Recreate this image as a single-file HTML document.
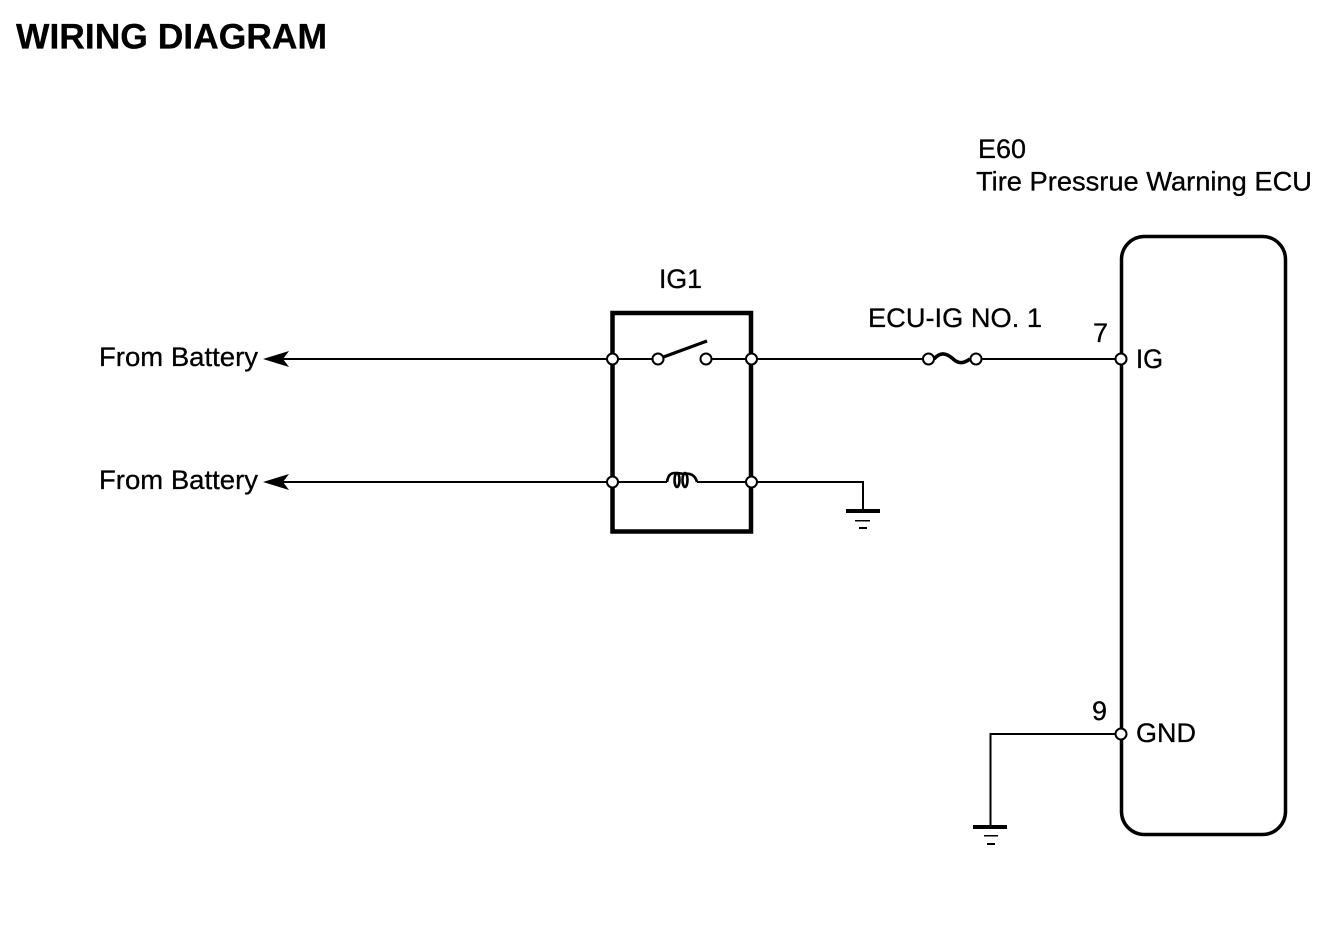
<!DOCTYPE html>
<html>
<head>
<meta charset="utf-8">
<style>
html,body{margin:0;padding:0;background:#fff;width:1344px;height:928px;overflow:hidden}
svg{display:block}
text{font-family:"Liberation Sans",Arial,sans-serif;font-size:27px;fill:#000;stroke:#000;stroke-width:.3px}
</style>
</head>
<body>
<svg width="1344" height="928" viewBox="0 0 1344 928" xmlns="http://www.w3.org/2000/svg">
<rect width="1344" height="928" fill="#fff"/>
<text x="16" y="48.5" style="font-size:35px;font-weight:bold" textLength="311" lengthAdjust="spacingAndGlyphs">WIRING DIAGRAM</text>
<text x="978" y="158" textLength="48" lengthAdjust="spacingAndGlyphs">E60</text>
<text x="976" y="190.5" textLength="336" lengthAdjust="spacingAndGlyphs">Tire Pressrue Warning ECU</text>
<text x="659" y="288" textLength="43" lengthAdjust="spacingAndGlyphs">IG1</text>
<text x="868" y="327" textLength="174" lengthAdjust="spacingAndGlyphs">ECU-IG NO. 1</text>
<text x="1093" y="342">7</text>
<text x="1092" y="720">9</text>
<text x="1136" y="368" textLength="27" lengthAdjust="spacingAndGlyphs">IG</text>
<text x="1136" y="742" textLength="60" lengthAdjust="spacingAndGlyphs">GND</text>
<text x="99" y="366" textLength="159" lengthAdjust="spacingAndGlyphs">From Battery</text>
<text x="99" y="489" textLength="159" lengthAdjust="spacingAndGlyphs">From Battery</text>

<g fill="none" stroke="#000">
  <rect x="612.5" y="313" width="138.5" height="218.5" stroke-width="4.5"/>
  <rect x="1121.5" y="236.5" width="164" height="598" rx="23" ry="23" stroke-width="3.5"/>
  <g stroke-width="2">
    <path d="M275 359H612M612 359H658M706 359H752M752 359H928M976 359H1121"/>
    <path d="M275 482H667M697 482H752M752 482H863V511"/>
    <path d="M1121 734H990.5V827"/>
  </g>
  <path d="M658 359L707 341" stroke-width="3.2"/>
  <path d="M667 482C668 476 670 473 675 473C681 473 682 474 684 474C690 473 695 475 697 482" stroke-width="2.6"/>
  <ellipse cx="677" cy="480" rx="2.5" ry="7" stroke-width="2.6"/>
  <ellipse cx="685" cy="480" rx="2.5" ry="7" stroke-width="2.6"/>
  <path d="M934 359C941 351 947 354 952 358C958 364 963 364 970 359" stroke-width="3.6"/>
</g>

<g fill="#000" stroke="none">
  <path d="M263 359L289 351L283 359L289 367Z"/>
  <path d="M263 482L289 474L283 482L289 490Z"/>
  <rect x="846" y="509" width="34" height="4"/>
  <rect x="855" y="520" width="15" height="1.5"/>
  <rect x="859" y="527" width="8" height="2"/>
  <rect x="973" y="825" width="34" height="4"/>
  <rect x="984" y="835" width="14" height="1.5"/>
  <rect x="987" y="843" width="8" height="2"/>
</g>

<g fill="#fff" stroke="#000" stroke-width="2">
  <circle cx="612.5" cy="359" r="5.5"/>
  <circle cx="658" cy="359" r="5.5"/>
  <circle cx="706" cy="359" r="5.5"/>
  <circle cx="751.5" cy="359" r="5.5"/>
  <circle cx="612.5" cy="482" r="5.5"/>
  <circle cx="751.5" cy="482" r="5.5"/>
  <circle cx="928.5" cy="359" r="5.5"/>
  <circle cx="976" cy="359" r="5.5"/>
  <circle cx="1121" cy="359" r="5.5"/>
  <circle cx="1121" cy="734" r="5.5"/>
</g>
</svg>
</body>
</html>
